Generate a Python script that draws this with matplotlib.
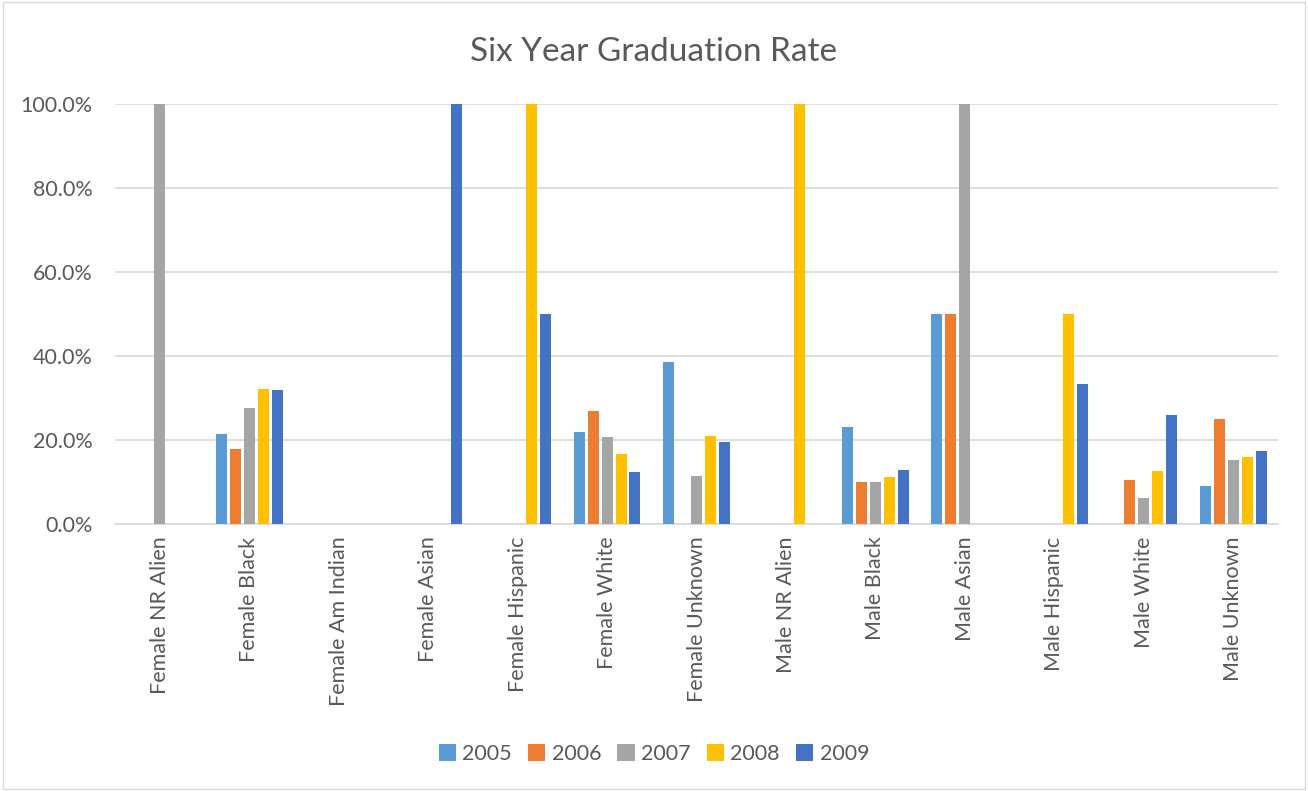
import numpy as np
import matplotlib.pyplot as plt
from matplotlib.ticker import PercentFormatter
from matplotlib.patches import Rectangle

categories = ['Female NR Alien', 'Female Black', 'Female Am Indian', 'Female Asian',
              'Female Hispanic', 'Female White', 'Female Unknown', 'Male NR Alien',
              'Male Black', 'Male Asian', 'Male Hispanic', 'Male White', 'Male Unknown']
years = ['2005', '2006', '2007', '2008', '2009']
nan = np.nan
rate_2005 = [nan, 21.4, nan, nan, nan, 21.9, 38.5, nan, 23.2, 50.0, nan, nan, 9.1]
rate_2006 = [nan, 17.9, nan, nan, nan, 26.9, nan, nan, 9.9, 50.0, nan, 10.6, 25.0]
rate_2007 = [100.0, 27.7, nan, nan, nan, 20.7, 11.5, nan, 9.9, 100.0, nan, 6.3, 15.2]
rate_2008 = [nan, 32.1, nan, nan, 100.0, 16.7, 20.9, 100.0, 11.3, nan, 50.0, 12.6, 16.0]
rate_2009 = [nan, 31.9, nan, 100.0, 50.0, 12.5, 19.5, nan, 12.9, nan, 33.3, 25.9, 17.5]
series = [rate_2005, rate_2006, rate_2007, rate_2008, rate_2009]
colors = ['#5B9BD5', '#ED7D31', '#A5A5A5', '#FFC000', '#4472C4']

plt.rcParams['font.family'] = ['Lato', 'DejaVu Sans']
text_color = '#595959'

fig = plt.figure(figsize=(13.08, 7.91), dpi=100)
ax = fig.add_axes([0.088, 0.3375, 0.889, 0.531])

x = np.arange(len(categories))
step = 0.156
width = 0.123
for i, (vals, c, yr) in enumerate(zip(series, colors, years)):
    ax.bar(x + (i - 2) * step, vals, width=width, color=c, label=yr, zorder=3)

ax.set_xlim(-0.5, len(categories) - 0.5)
ax.set_ylim(0, 100)
ax.set_yticks(np.arange(0, 101, 20))
ax.yaxis.set_major_formatter(PercentFormatter(decimals=1))
ax.grid(axis='y', color='#D9D9D9', linewidth=1.2, zorder=0)
for s in ['top', 'right', 'left']:
    ax.spines[s].set_visible(False)
ax.spines['bottom'].set_color('#D9D9D9')
ax.spines['bottom'].set_linewidth(1.2)
ax.tick_params(axis='y', length=0, labelsize=15.5, colors=text_color, pad=16)
ax.tick_params(axis='x', length=0, labelsize=15.5, colors=text_color, pad=9)
ax.set_xticks(x)
ax.set_xticklabels(categories, rotation=90, va='top')

fig.suptitle('Six Year Graduation Rate', y=0.953, fontsize=24, color=text_color)

fig.legend(loc='center', bbox_to_anchor=(0.5, 0.047), ncol=5, frameon=False,
           fontsize=15.5, handlelength=0.8, handleheight=0.8, handletextpad=0.3,
           columnspacing=0.75, labelcolor=text_color)

fig.patches.append(Rectangle((0.002, 0.002), 0.996, 0.996, transform=fig.transFigure,
                             fill=False, edgecolor='#D9D9D9', linewidth=1))

fig.savefig('out.png', dpi=100)
